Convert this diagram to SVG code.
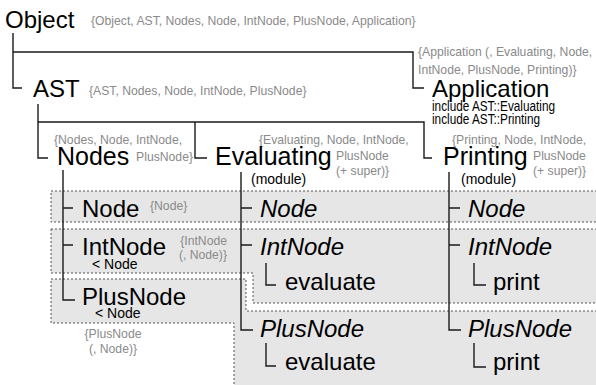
<svg xmlns="http://www.w3.org/2000/svg" width="596" height="385" viewBox="0 0 596 385">
<style>
text{font-family:"Liberation Sans",Arial,sans-serif;}
.big{font-size:25px;fill:#000;}
.it{font-size:24px;fill:#000;font-style:italic;}
.m{font-size:24px;fill:#000;}
.g{font-size:12.2px;fill:#8a8a8a;}
.s{font-size:14px;fill:#000;}
.box{fill:#e6e6e6;stroke:#555;stroke-width:1;stroke-dasharray:2,2;}
.c{fill:none;stroke:#1a1a1a;stroke-width:1.4;}
</style>
<g id="boxes">
<path class="box" d="M51,191 H600 V222 H51 Z"/>
<path class="box" d="M51,229 H600 V303 H253 V273 H51 Z"/>
<path class="box" d="M51,279 H246 V311 H600 V390 H234 V323 H51 Z"/>
</g>
<g id="connectors">
<path class="c" d="M13,33 V88 H22"/>
<path class="c" d="M13,52 H413 V88 H424"/>
<path class="c" d="M38,104 V158 H48"/>
<path class="c" d="M38,122 H424 V158 H432"/>
<path class="c" d="M195,122 V158 H207"/>
<path class="c" d="M63,170 V300 H75 M63,208 H73 M63,245 H73"/>
<path class="c" d="M241,172 V330 H253 M241,208 H252 M241,245 H252"/>
<path class="c" d="M266,263 V285 H276 M266,343 V366 H276"/>
<path class="c" d="M449,172 V330 H461 M449,208 H460 M449,245 H460"/>
<path class="c" d="M474,263 V285 H486 M474,343 V367 H486"/>
</g>
<g id="Object">
<text class="big" x="5" y="28" style="font-size:24px">Object</text>
<text class="g" x="91" y="25">{Object, AST, Nodes, Node, IntNode, PlusNode, Application}</text>
</g>
<g id="AST">
<text class="big" x="33" y="97" style="font-size:24px">AST</text>
<text class="g" x="89" y="95">{AST, Nodes, Node, IntNode, PlusNode}</text>
</g>
<g id="Application">
<text class="g" x="418" y="56">{Application (, Evaluating, Node,</text>
<text class="g" x="418" y="74">IntNode, PlusNode, Printing)}</text>
<text class="big" x="432" y="97" style="font-size:24px">Application</text>
<text class="s" x="432" y="111" textLength="123" lengthAdjust="spacingAndGlyphs">include AST::Evaluating</text>
<text class="s" x="432" y="124" textLength="108" lengthAdjust="spacingAndGlyphs">include AST::Printing</text>
</g>
<g id="Nodes">
<text class="g" x="54" y="144">{Nodes, Node, IntNode,</text>
<text class="g" x="193" y="161" text-anchor="end">PlusNode}</text>
<text class="big" x="57" y="165">Nodes</text>
</g>
<g id="Evaluating">
<text class="g" x="259" y="144">{Evaluating, Node, IntNode,</text>
<text class="g" x="336" y="160">PlusNode</text>
<text class="g" x="336" y="175">(+ super)}</text>
<text class="big" x="215" y="165">Evaluating</text>
<text class="s" x="251" y="184">(module)</text>
</g>
<g id="Printing">
<text class="g" x="452" y="144">{Printing, Node, IntNode,</text>
<text class="g" x="533" y="160">PlusNode</text>
<text class="g" x="533" y="175">(+ super)}</text>
<text class="big" x="443" y="165">Printing</text>
<text class="s" x="461" y="184">(module)</text>
</g>
<g id="Node">
<text class="m" x="82" y="217">Node</text>
<text class="g" x="150" y="210">{Node}</text>
</g>
<g id="IntNode">
<text class="m" x="82" y="255">IntNode</text>
<text class="g" x="227" y="245" text-anchor="end">{IntNode</text>
<text class="g" x="227" y="259" text-anchor="end">(, Node)}</text>
<text class="s" x="92" y="269">&lt; Node</text>
</g>
<g id="PlusNode">
<text class="m" x="82" y="305">PlusNode</text>
<text class="s" x="95" y="318">&lt; Node</text>
<text class="g" x="113" y="338" text-anchor="middle">{PlusNode</text>
<text class="g" x="113" y="353" text-anchor="middle">(, Node)}</text>
</g>
<g id="EvalNode"><text class="it" x="260" y="217">Node</text></g>
<g id="EvalIntNode"><text class="it" x="260" y="255">IntNode</text></g>
<g id="EvalIntEvaluate"><text class="m" x="285" y="290">evaluate</text></g>
<g id="EvalPlusNode"><text class="it" x="260" y="337">PlusNode</text></g>
<g id="EvalPlusEvaluate"><text class="m" x="285" y="370">evaluate</text></g>
<g id="PrintNode"><text class="it" x="468" y="217">Node</text></g>
<g id="PrintIntNode"><text class="it" x="468" y="255">IntNode</text></g>
<g id="PrintIntPrint"><text class="m" x="493" y="290">print</text></g>
<g id="PrintPlusNode"><text class="it" x="468" y="337">PlusNode</text></g>
<g id="PrintPlusPrint"><text class="m" x="493" y="370">print</text></g>
</svg>
